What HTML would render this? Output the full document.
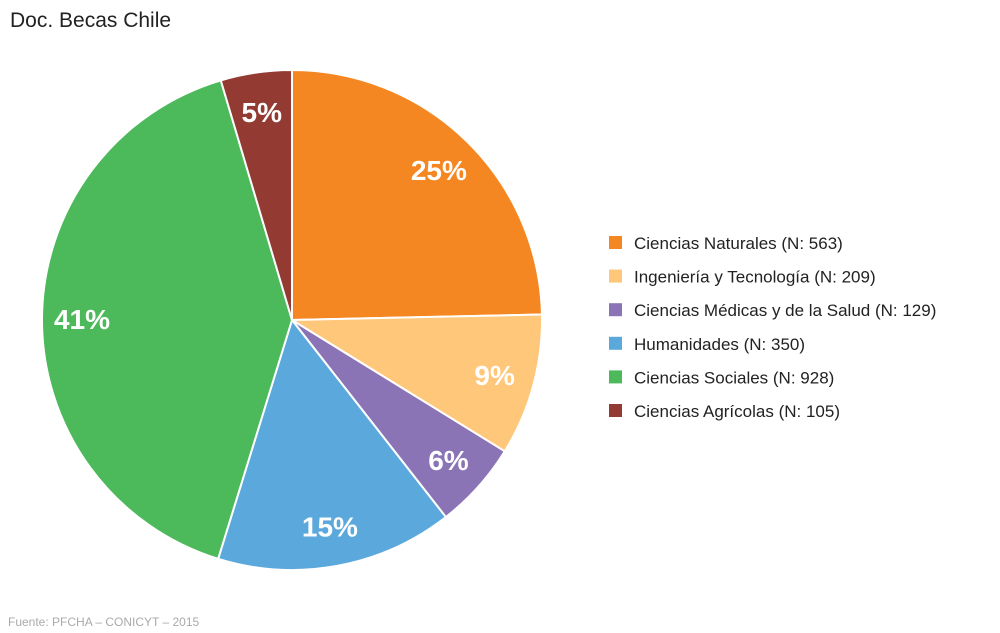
<!DOCTYPE html>
<html><head><meta charset="utf-8"><style>
body{margin:0;background:#fff;font-family:"Liberation Sans",sans-serif;}
svg{display:block}
</style></head><body>
<svg id="chart" width="1000" height="633">
<text x="10" y="27" font-size="21" fill="#222">Doc. Becas Chile</text>
<text x="8" y="626" font-size="12" fill="#aaa">Fuente: PFCHA – CONICYT – 2015</text>
<g id="slices"></g><g id="labels"></g><g id="legend"></g>
</svg>
<script>
const categories=["Ciencias Naturales","Ingeniería y Tecnología","Ciencias Médicas y de la Salud","Humanidades","Ciencias Sociales","Ciencias Agrícolas"];
const values=[563,209,129,350,928,105];
const colors=["#F58722","#FFC77A","#8A74B5","#5BA9DC","#4CB95A","#933B33"];
const NS="http://www.w3.org/2000/svg";
const cx=292,cy=320,R=250;
const total=values.reduce((a,b)=>a+b,0);
const sg=document.getElementById('slices'),lg=document.getElementById('labels'),leg=document.getElementById('legend');
function pt(a,r){return [cx+r*Math.sin(a),cy-r*Math.cos(a)];}
let a0=0;
values.forEach((v,i)=>{
  const a1=a0+v/total*2*Math.PI;
  const p0=pt(a0,R),p1=pt(a1,R);
  const large=(a1-a0)>Math.PI?1:0;
  const p=document.createElementNS(NS,'path');
  p.setAttribute('d',`M${cx},${cy}L${p0[0]},${p0[1]}A${R},${R} 0 ${large} 1 ${p1[0]},${p1[1]}Z`);
  p.setAttribute('fill',colors[i]);p.setAttribute('stroke','#fff');p.setAttribute('stroke-width','2');
  
  
  sg.appendChild(p);
  const m=pt((a0+a1)/2,R*0.84);
  const t=document.createElementNS(NS,'text');
  t.setAttribute('x',m[0]);t.setAttribute('y',m[1]+10);t.setAttribute('text-anchor','middle');
  t.setAttribute('font-size','28');t.setAttribute('font-weight','bold');t.setAttribute('fill','#fff');
  t.textContent=Math.round(v/total*100)+'%';
  
  
  lg.appendChild(t);
  const y=243+i*33.6;
  const g=document.createElementNS(NS,'g');
  
  
  const r=document.createElementNS(NS,'rect');
  r.setAttribute('x',609);r.setAttribute('y',y-7);r.setAttribute('width',13);r.setAttribute('height',13);r.setAttribute('fill',colors[i]);
  const tx=document.createElementNS(NS,'text');
  tx.setAttribute('x',634);tx.setAttribute('y',y+6);tx.setAttribute('font-size','17');tx.setAttribute('fill','#222');
  tx.textContent=categories[i]+' (N: '+v+')';
  g.appendChild(r);g.appendChild(tx);leg.appendChild(g);
  a0=a1;
});
</script>
</body></html>
